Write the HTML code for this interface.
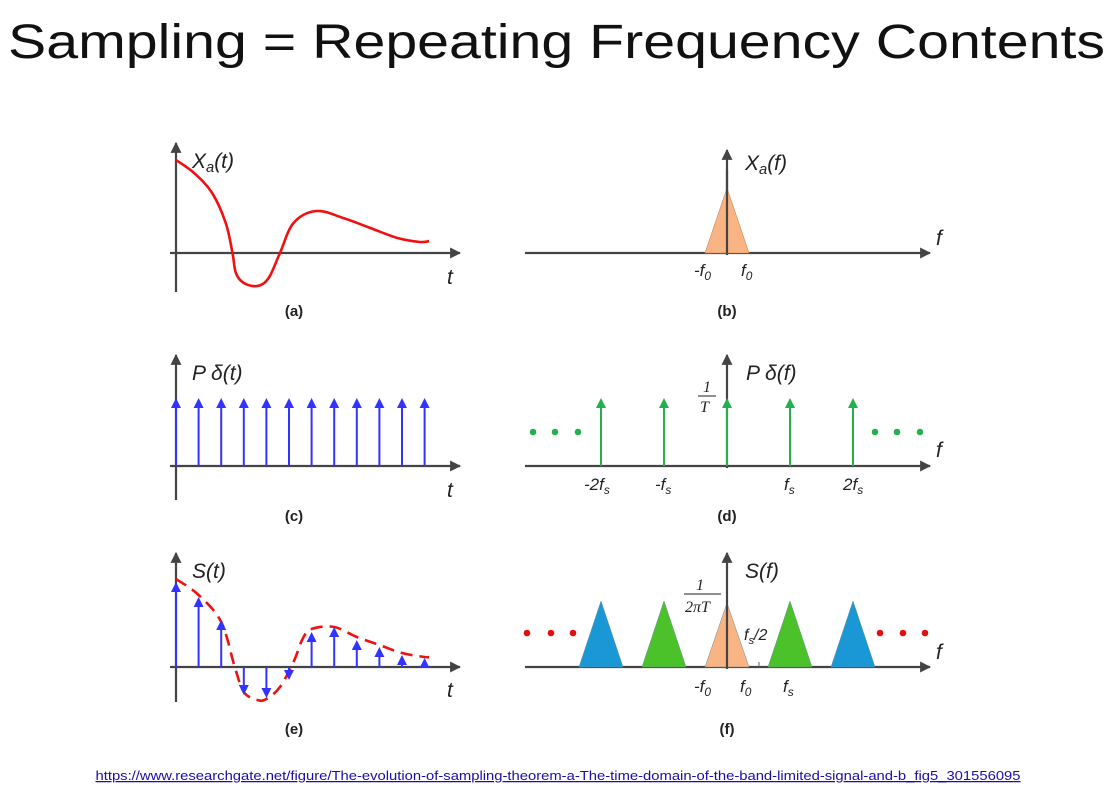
<!DOCTYPE html>
<html><head><meta charset="utf-8"><style>
body{margin:0;background:#fff;}
svg{display:block;font-family:"Liberation Sans",sans-serif;}
.it{font-style:italic;fill:#222;}
.cap{font-weight:bold;font-size:15px;fill:#222;text-anchor:middle;}
</style></head><body>
<svg id="s" width="1117" height="800" viewBox="0 0 1117 800">
<defs>
<marker id="ah" viewBox="0 0 10 10" refX="9" refY="5" markerWidth="5" markerHeight="5" orient="auto"><path d="M0,0L10,5L0,10z" fill="#444"/></marker>
</defs>
<text x="8" y="58" font-size="48" fill="#111" textLength="1097" lengthAdjust="spacingAndGlyphs">Sampling = Repeating Frequency Contents</text>
<text x="558" y="780" font-size="12.5" fill="#1a0dab" text-anchor="middle" text-decoration="underline" textLength="925" lengthAdjust="spacingAndGlyphs">https://www.researchgate.net/figure/The-evolution-of-sampling-theorem-a-The-time-domain-of-the-band-limited-signal-and-b_fig5_301556095</text>
<g id="g"></g>
</svg>
<script>
// (a) continuous signal samples
const curveT=[0,0.8,1.6,2.2,2.5,2.65,3.0,3.6,4.1,4.6,5.2,6.2,7.4,8.6,9.8,10.8,11.2];
const curveV=[93,80,60,30,0,-20,-30,-33,-25,0,30,42,35,25,15,11,12];
// (c) impulse train count
const impulseCount=12;
// (e) sampled values
const sampleV=[85,70,47,-28,-31,-13,35,40,27,20,12,9];
const envT=[0,1,2,2.6,3,3.6,4,4.6,5.2,5.6,6,7,8,9,10,11,11.2];
const envV=[88,72,45,0,-25,-33,-32,-20,5,28,38,40,30,22,14,10,10];
// (d) spectrum lines at multiples of fs
const combK=[-2,-1,0,1,2];
// (f) replicas
const repK=[-2,-1,0,1,2];
const repColor=['#1a98d5','#4cc22a','#f9b483','#4cc22a','#1a98d5'];

const NS='http://www.w3.org/2000/svg';
const G=document.getElementById('g');
function el(tag,at,parent){const e=document.createElementNS(NS,tag);for(const k in at)e.setAttribute(k,at[k]);(parent||G).appendChild(e);return e;}
function txt(x,y,s,cls,size,parent){const t=el('text',{x:x,y:y,'font-size':size||18,class:cls||'it'},parent);t.textContent=s;return t;}
function sub(x,y,a,b,size){const t=el('text',{x:x,y:y,'font-size':size,class:'it'});t.appendChild(document.createTextNode(a));
const s=el('tspan',{'font-size':size*0.7,dy:4},t);s.textContent=b;const r=el('tspan',{dy:-4},t);r.textContent=arguments[5]||'';return t;}
function smooth(pts){let d='M'+pts[0][0]+','+pts[0][1];for(let i=0;i<pts.length-1;i++){const p0=pts[Math.max(i-1,0)],p1=pts[i],p2=pts[i+1],p3=pts[Math.min(i+2,pts.length-1)];
d+=`C${p1[0]+(p2[0]-p0[0])/6},${p1[1]+(p2[1]-p0[1])/6} ${p2[0]-(p3[0]-p1[0])/6},${p2[1]-(p3[1]-p1[1])/6} ${p2[0]},${p2[1]}`;}return d;}
function axis(x1,y1,x2,y2,name){const l=el('line',{x1:x1,y1:y1,x2:x2,y2:y2,stroke:'#444','stroke-width':2.2,'marker-end':'url(#ah)'});

}
function arrowUp(x,y0,y1,col,name){const d=y1<y0?-1:1;
const l=el('line',{x1:x,y1:y0,x2:x,y2:y1-d*8,stroke:col,'stroke-width':2});


const p=el('path',{d:`M${x-5},${y1-d*10}L${x+5},${y1-d*10}L${x},${y1}z`,fill:col});

}
const sx=t=>176+22.6*t;

// ---- (a)
const yA=253;
axis(176,292,176,143,'y-axis-a');axis(170,yA,460,yA,'x-axis-a');
const ca=el('path',{d:smooth(curveT.map((t,i)=>[sx(t),yA-curveV[i]])),fill:'none',stroke:'#f01010','stroke-width':2.6,'stroke-linejoin':'round'});


sub(192,168,'X','a',21,'(t)');txt(447,284,'t','it',21);txt(294,316,'(a)','cap',15);

// ---- (b)
const yB=253,cx=727,fs=63;
axis(525,yB,930,yB,'x-axis-b');axis(cx,yB+2,cx,150,'y-axis-b');
const tb=el('path',{d:`M${cx-22},${yB}L${cx},188L${cx+22},${yB}z`,fill:'#f9b483',stroke:'#c98a5a','stroke-width':0.6});


el('line',{x1:cx,y1:yB,x2:cx,y2:170,stroke:'#444','stroke-width':2.2});
sub(745,170,'X','a',21,'(f)');txt(936,245,'f','it',21);sub(694,276,'-f','0',17);sub(741,276,'f','0',17);txt(727,316,'(b)','cap',15);

// ---- (c)
const yC=466;
axis(176,500,176,355,'y-axis-c');axis(170,yC,460,yC,'x-axis-c');
for(let i=0;i<impulseCount;i++)arrowUp(sx(i),yC,398,'#3333ff','impulse-'+i);
txt(192,380,'P δ(t)','it',21);txt(447,497,'t','it',21);txt(294,521,'(c)','cap',15);

// ---- (d)
axis(525,yC,930,yC,'x-axis-d');axis(cx,yC+2,cx,355,'y-axis-d');
combK.forEach(k=>arrowUp(cx+k*fs,yC,398,'#22b14c','comb-'+k));
[533,555,578,875,897,920].forEach((x,i)=>{const c=el('circle',{cx:x,cy:432,r:3.3,fill:'#22b14c'});});
txt(746,380,'P δ(f)','it',21);txt(936,457,'f','it',21);
const t1=txt(703,392,'1','',16);t1.setAttribute('font-family','Liberation Serif');el('line',{x1:698,y1:396,x2:716,y2:396,stroke:'#222','stroke-width':1});
const tT=txt(700,412,'T','it',16);tT.setAttribute('font-family','Liberation Serif');
sub(584,490,'-2f','s',17);sub(655,490,'-f','s',17);sub(784,490,'f','s',17);sub(843,490,'2f','s',17);txt(727,521,'(d)','cap',15);

// ---- (e)
const yE=667;
axis(176,702,176,553,'y-axis-e');axis(170,yE,460,yE,'x-axis-e');
const ce=el('path',{d:smooth(envT.map((t,i)=>[sx(t),yE-envV[i]])),fill:'none',stroke:'#f01010','stroke-width':2.6,'stroke-dasharray':'12,7'});


sampleV.forEach((v,i)=>arrowUp(sx(i),yE,yE-v,'#3333ff','sample-'+i));
txt(192,578,'S(t)','it',21);txt(447,697,'t','it',21);txt(294,734,'(e)','cap',15);

// ---- (f)
axis(525,yE,930,yE,'x-axis-f');
repK.forEach((k,i)=>{const c=cx+k*fs;const p=el('path',{d:`M${c-22},${yE}L${c},${k?601:603}L${c+22},${yE}z`,fill:repColor[i],stroke:'#6a8a9a','stroke-width':0.5});

});
axis(cx,yE+2,cx,553,'y-axis-f');
[527,551,573,880,903,925].forEach((x,i)=>{const c=el('circle',{cx:x,cy:633,r:3.3,fill:'#e01010'});});
el('line',{x1:759,y1:667,x2:759,y2:662,stroke:'#666','stroke-width':1});
txt(745,578,'S(f)','it',21);txt(936,659,'f','it',21);
const u1=txt(696,590,'1','',16);u1.setAttribute('font-family','Liberation Serif');el('line',{x1:684,y1:594,x2:721,y2:594,stroke:'#222','stroke-width':1});
const u2=txt(685,612,'2πT','it',16);u2.setAttribute('font-family','Liberation Serif');
sub(744,640,'f','s',16,'/2');sub(694,692,'-f','0',17);sub(740,692,'f','0',17);sub(783,692,'f','s',17);txt(727,734,'(f)','cap',15);
</script>
</body></html>
